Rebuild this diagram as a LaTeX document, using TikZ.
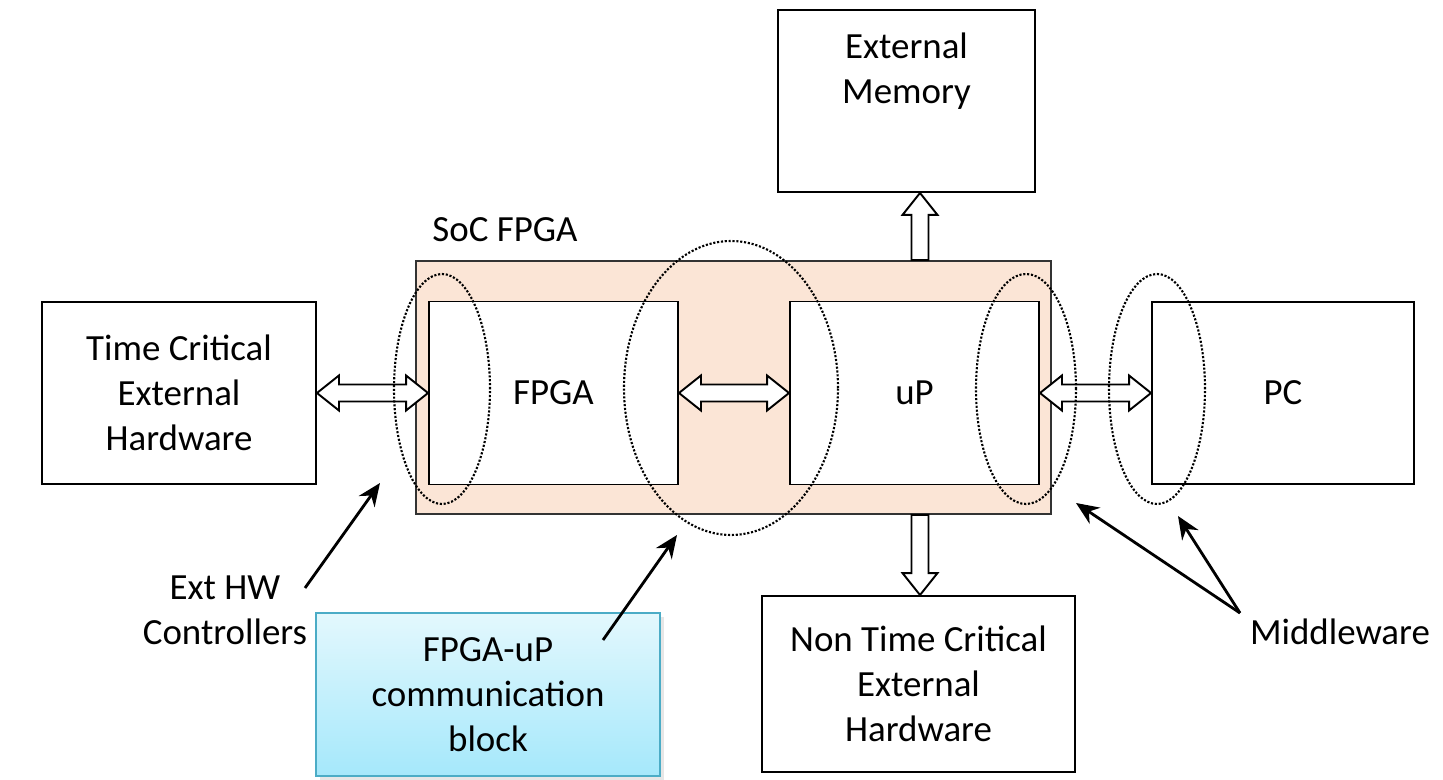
\documentclass[tikz,border=0pt]{standalone}
\usepackage{fontspec}
\setmainfont{Carlito}
\usepackage{tikz}
\usetikzlibrary{shapes.geometric, arrows.meta, calc, shadows}

\definecolor{socfill}{HTML}{FBE5D6}
\definecolor{commtop}{HTML}{E3F8FD}
\definecolor{commbot}{HTML}{A5E8FB}
\definecolor{commline}{HTML}{4BACC6}

% hollow bus arrows
\newcommand{\hfat}[2]{%
  \draw[fatarrow] (#1) -- ++(0.44,0.35) -- ++(0,-0.18) -- ($(#2)+(-0.44,0.17)$)
    -- ++(0,0.18) -- (#2) -- ++(-0.44,-0.35) -- ++(0,0.18)
    -- ($(#1)+(0.44,-0.17)$) -- ++(0,-0.18) -- cycle;}
\newcommand{\upfat}[2]{%
  \draw[fatarrow] ($(#1)+(-0.17,0)$) -- ($(#2)+(-0.17,-0.44)$) -- ++(-0.18,0)
    -- (#2) -- ++(0.35,-0.44) -- ++(-0.18,0) -- ($(#1)+(0.17,0)$) -- cycle;}
\newcommand{\downfat}[2]{%
  \draw[fatarrow] ($(#1)+(-0.17,0)$) -- ($(#2)+(-0.17,0.44)$) -- ++(-0.18,0)
    -- (#2) -- ++(0.35,0.44) -- ++(-0.18,0) -- ($(#1)+(0.17,0)$) -- cycle;}

\begin{document}
\begin{tikzpicture}[
  every node/.style={font=\fontsize{21}{25.6}\selectfont, align=center},
  block/.style={rectangle, draw, line width=1.1pt, fill=white, inner sep=0pt},
  soc/.style={rectangle, draw=black!80, line width=1.1pt, fill=socfill, inner sep=0pt},
  comm/.style={rectangle, draw=commline, line width=1.1pt, top color=commtop,
    bottom color=commbot, inner sep=0pt,
    drop shadow={opacity=0.2, shadow xshift=2pt, shadow yshift=-2pt}},
  band/.style={ellipse, draw, densely dotted, line width=1.2pt, inner sep=0pt},
  fatarrow/.style={draw, fill=white, line width=1.1pt, line join=miter},
  pointer/.style={line width=1.6pt, -{Stealth[length=13pt, width=11pt]}},
]
  \useasboundingbox (0,0) rectangle (28.86,15.58);

  % chip and its two halves
  \node[soc, minimum width=12.7cm, minimum height=5.06cm] (soc) at (14.67,7.83) {};
  \node (soclabel) at (10.1,10.98) {SoC FPGA};
  \node[block, minimum width=4.98cm, minimum height=3.66cm] (fpga) at (11.07,7.72) {FPGA};
  \node[block, minimum width=4.98cm, minimum height=3.66cm] (up) at (18.29,7.72) {uP};

  % outside world
  \node[block, minimum width=5.48cm, minimum height=3.64cm] (tch) at (3.58,7.72)
    {Time Critical\\External\\Hardware};
  \node[block, minimum width=5.24cm, minimum height=3.64cm] (pc) at (25.66,7.72) {PC};
  \node[block, minimum width=5.14cm, minimum height=3.64cm,
    label={[anchor=north, yshift=-0.36cm]north:External\\Memory}] (extmem) at (18.13,13.56) {};
  \node[block, minimum width=6.26cm, minimum height=3.52cm] (ntc) at (18.37,1.9)
    {Non Time Critical\\External\\Hardware};
  \node[comm, minimum width=6.88cm, minimum height=3.26cm] (comm) at (9.76,1.69)
    {FPGA-uP\\communication\\block};

  % buses
  \hfat{tch.east}{fpga.west}
  \hfat{fpga.east}{up.west}
  \hfat{up.east}{pc.west}
  \coordinate (memfoot) at ([xshift=3.73cm]soc.north);
  \coordinate (memtop) at (memfoot |- extmem.south);
  \upfat{memfoot}{memtop}
  \coordinate (hwtop) at ([xshift=3.73cm]soc.south);
  \coordinate (hwfoot) at (hwtop |- ntc.north);
  \downfat{hwtop}{hwfoot}

  % interface groups
  \node[band, minimum width=1.92cm, minimum height=4.6cm] (band1) at (8.84,7.8) {};
  \node[band, minimum width=4.28cm, minimum height=5.88cm] (band2) at (14.62,7.82) {};
  \node[band, minimum width=2.0cm, minimum height=4.6cm] (band3) at (20.52,7.8) {};
  \node[band, minimum width=1.92cm, minimum height=4.6cm] (band4) at (23.14,7.8) {};

  % callouts
  \node (extlabel) at (4.5,3.38) {Ext HW\\Controllers};
  \node (midlabel) at (26.8,2.94) {Middleware};
  \coordinate (hwfrom) at (6.1,3.82);
  \coordinate (hwto) at (7.6,5.92);
  \coordinate (commfrom) at (12.06,2.78);
  \coordinate (commto) at (13.54,4.88);
  \coordinate (midfrom) at (24.8,3.32);
  \coordinate (midto1) at (21.52,5.52);
  \coordinate (midto2) at (23.56,5.26);
  \draw[pointer] (hwfrom) -- (hwto);
  \draw[pointer] (commfrom) -- (commto);
  \draw[pointer] (midfrom) -- (midto1);
  \draw[pointer] (midfrom) -- (midto2);
\end{tikzpicture}
\end{document}
